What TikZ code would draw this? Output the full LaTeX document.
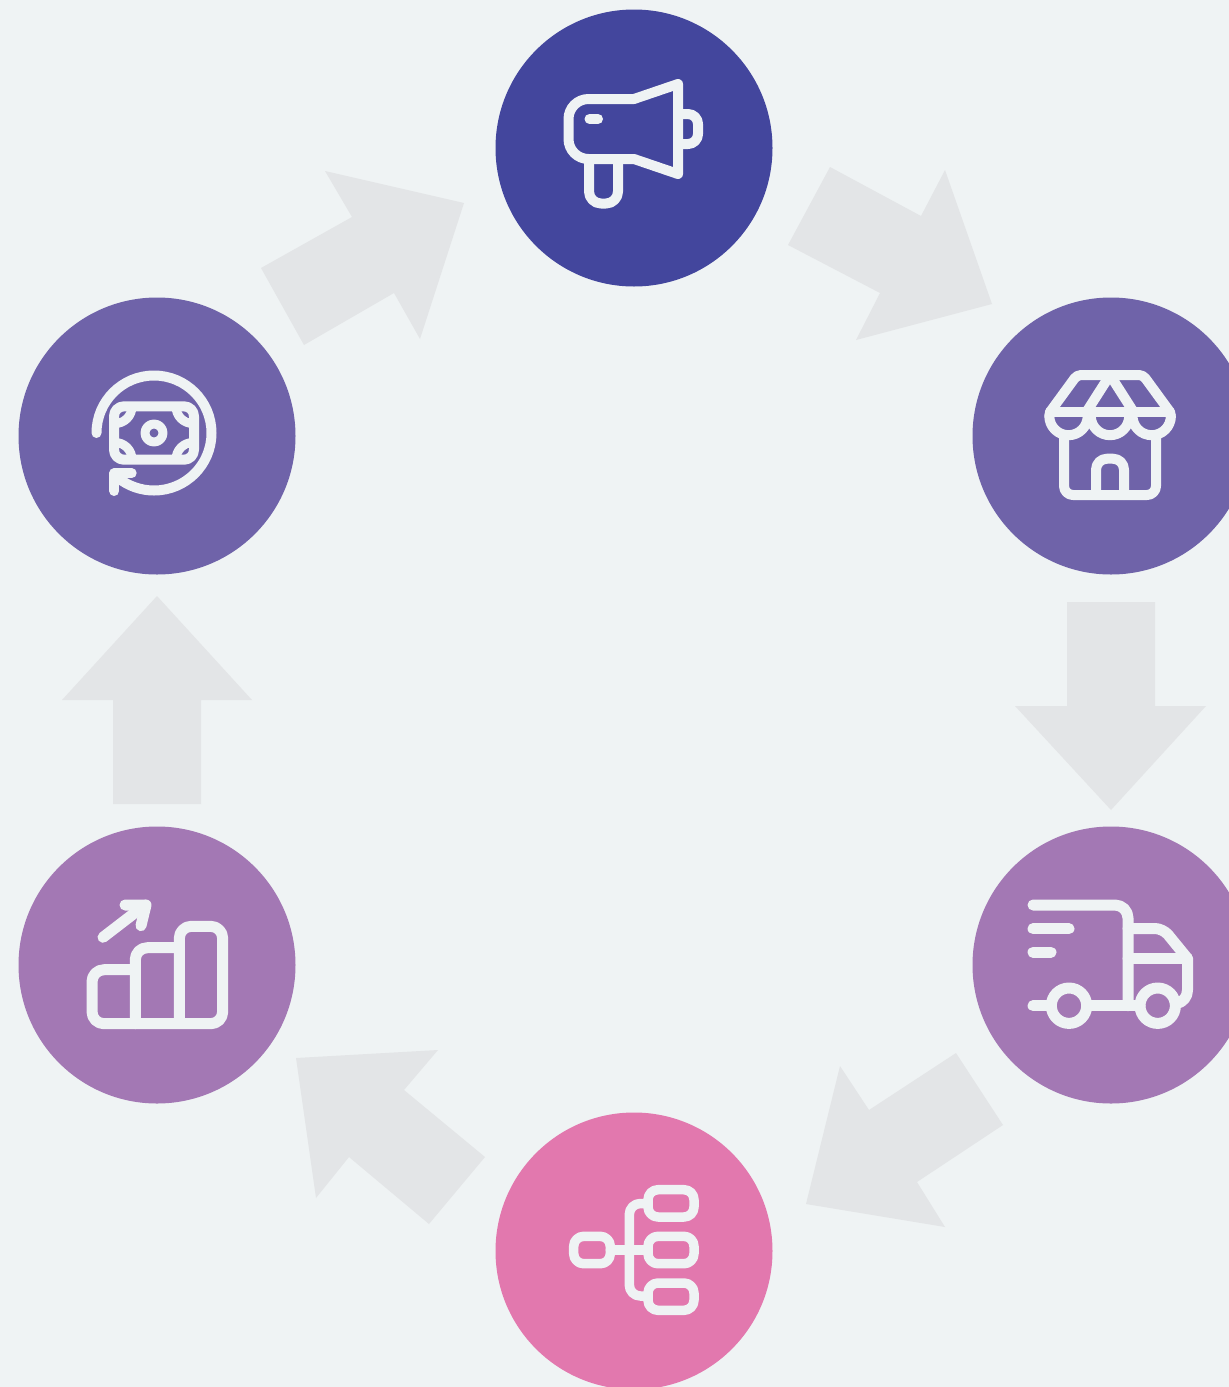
\documentclass[tikz,border=0pt]{standalone}
\definecolor{bgc}{HTML}{EFF3F4}
\definecolor{arrowc}{HTML}{E3E5E7}
\definecolor{navyc}{HTML}{43469D}
\definecolor{violetc}{HTML}{6F63A9}
\definecolor{mauvec}{HTML}{A378B4}
\definecolor{pinkc}{HTML}{E278AE}
\tikzset{
  hub/.style={circle,minimum size=277pt,inner sep=0pt,outer sep=0pt,draw=none},
  blockarrow/.style={fill=arrowc,draw=none},
  icon/.style={draw=bgc,line width=10pt,line cap=round,line join=round},
  thickicon/.style={icon,line width=11pt},
  thinicon/.style={icon,line width=9.5pt},
  cornerarc/.style={icon,line width=9pt,line cap=butt},
}
\begin{document}
\begin{tikzpicture}[x=1pt,y=1pt,yscale=-1]
\useasboundingbox (0,0) rectangle (1229,1387);
\clip (0,0) rectangle (1229,1387);
\fill[bgc] (0,0) rectangle (1229,1387);
% circles
\node[hub,fill=navyc] (market) at (634,148) {};
\node[hub,fill=violetc] (store) at (1111,436) {};
\node[hub,fill=mauvec] (truck) at (1111,965) {};
\node[hub,fill=pinkc] (tree) at (634,1251) {};
\node[hub,fill=mauvec] (chart) at (157,965) {};
\node[hub,fill=violetc] (money) at (157,436) {};
% block arrows
\fill[blockarrow] (830,167)--(921,216)--(945,170)--(992,304)--(856,340)--(880,293)--(788,245)--cycle;
\fill[blockarrow] (1067,602)--(1155,602)--(1155,706)--(1206,706)--(1111,810)--(1015,706)--(1067,706)--cycle;
\fill[blockarrow] (956,1053)--(1003,1125)--(917,1182)--(945,1227)--(806,1204)--(840,1066)--(869,1110)--cycle;
\fill[blockarrow] (485,1157)--(429,1224)--(349,1157)--(316,1198)--(296,1058)--(438,1050)--(404,1090)--cycle;
\fill[blockarrow] (113,804)--(201,804)--(201,700)--(252,700)--(157,596)--(62,700)--(113,700)--cycle;
\fill[blockarrow] (304,345)--(261,268)--(352,217)--(325,171)--(464,203)--(420,339)--(394,293)--cycle;
% megaphone
\draw[icon] (678,84) -- (634,99) [rounded corners=20pt] -- (568.5,99) -- (568.5,159) [sharp corners] -- (634,159) -- (678,174) -- cycle;
\draw[icon] (589.5,119) -- (598,119);
\draw[icon,rounded corners=12pt] (589,159) -- (589,203.5) -- (618,203.5) -- (618,159);
\draw[icon,rounded corners=10pt] (678,114) -- (698,114) -- (698,144) -- (678,144);
% store
\draw[icon,rounded corners=4pt] (1050,412) -- (1077,375) -- (1143,375) -- (1170,412);
\draw[icon] (1050,412) -- (1170,412);
\draw[icon] (1086.4,412) -- (1110,375) -- (1133.6,412);
\draw[icon] (1049.3,416) arc[start angle=180,end angle=0,radius=19.2];
\draw[icon] (1090.8,416) arc[start angle=180,end angle=0,radius=19.2];
\draw[icon] (1132.5,416) arc[start angle=180,end angle=0,radius=19.2];
\draw[icon] (1049.3,416) -- (1050,412);
\draw[icon] (1170.9,416) -- (1170,412);
\draw[icon,rounded corners=9pt] (1064,437) -- (1064,495) -- (1156,495) -- (1156,437);
\draw[icon,rounded corners=11pt] (1096,495) -- (1096,458.7) -- (1124,458.7) -- (1124,495);
% truck
\draw[thickicon,rounded corners=13pt] (1033,905) -- (1128,905) -- (1128,1005.7);
\draw[thickicon] (1033,928.7) -- (1069,928.7);
\draw[thickicon] (1033,952.3) -- (1051,952.3);
\draw[thickicon] (1033,1005.7) -- (1051,1005.7);
\draw[thickicon] (1087,1005.7) -- (1140,1005.7);
\draw[thickicon] (1069,1005.7) circle[radius=17.7];
\draw[thickicon] (1157.7,1005.7) circle[radius=17.7];
\draw[thickicon,rounded corners=8pt] (1128,928.5) -- (1163,928.5) -- (1187.5,958.5);
\draw[thickicon] (1187.5,958.5) -- (1128,958.5);
\draw[thickicon] (1187.5,958.5) -- (1187.5,990) .. controls (1187.5,997) and (1183,1002) .. (1177,1003.5);
% tree
\draw[thinicon,rounded corners=10pt] (573.7,1236.3) rectangle (610.3,1263.7);
\draw[thinicon,rounded corners=10pt] (648,1189.7) rectangle (694,1217);
\draw[thinicon,rounded corners=10pt] (648,1236.3) rectangle (694,1263.7);
\draw[thinicon,rounded corners=10pt] (648,1283) rectangle (694,1310.3);
\draw[thinicon] (610.3,1250) -- (648,1250);
\draw[thinicon,rounded corners=11pt] (645,1203.5) -- (629.3,1203.5) -- (629.3,1296) -- (645,1296);
% chart
\draw[thickicon,rounded corners=12pt] (135.3,969.7) -- (92,969.7) -- (92,1023.7) -- (222.7,1023.7) -- (222.7,926.3) -- (179.3,926.3) -- (179.3,1023.7);
\draw[thickicon,rounded corners=12pt] (135.3,1023.7) -- (135.3,947.7) -- (179.3,947.7);
\draw[thickicon] (103,937.3) -- (145,905);
\draw[thickicon] (125,905) -- (146,905) -- (141,925.7);
% money
\draw[icon] (96.5,433) arc[start angle=180,end angle=488,radius=57.5];
\draw[icon] (131.7,473.3) -- (114.3,473.3) -- (114.3,491);
\draw[icon,rounded corners=10pt] (114,406.3) rectangle (194,459.7);
\draw[icon,line width=9pt] (154,433) circle[radius=9];
\draw[cornerarc] (115,423.5) arc[start angle=90,end angle=0,radius=17];
\draw[cornerarc] (193,423.5) arc[start angle=90,end angle=180,radius=17];
\draw[cornerarc] (115,442.5) arc[start angle=-90,end angle=0,radius=17];
\draw[cornerarc] (193,442.5) arc[start angle=-90,end angle=-180,radius=17];
\end{tikzpicture}
\end{document}
